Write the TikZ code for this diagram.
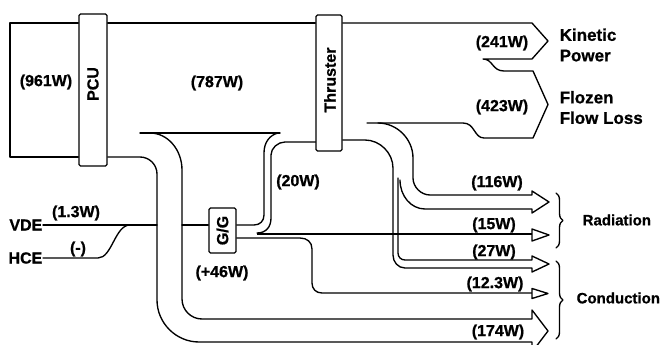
\documentclass[tikz,border=0pt]{standalone}
\usepackage{fontspec}
\setmainfont{Liberation Sans}[BoldFeatures={FakeBold=0.8}]
\usetikzlibrary{decorations.pathreplacing}
\begin{document}
\begin{tikzpicture}[x=1pt,y=-1pt, line width=1.35pt, line join=round, line cap=round,
  lbl/.style={font=\fontsize{16}{20}\selectfont\bfseries, inner sep=0pt},
  biglbl/.style={font=\fontsize{17}{20.5}\selectfont\bfseries, inner sep=0pt, anchor=west, align=left},
  grplbl/.style={font=\fontsize{15}{18}\selectfont\bfseries, inner sep=0pt, anchor=west},
  box/.style={draw, rounded corners=1.5pt, inner sep=0pt},
  openhead/.style={fill=white},
  grpbrace/.style={decorate, decoration={brace, amplitude=7pt}}]
\useasboundingbox (0,0) rectangle (667,345);
\clip (0,0) rectangle (667,345);

% boxes
\node[box, minimum width=28pt, minimum height=152pt] (pcu) at (93,90) {};
\node[lbl, rotate=90] (pcut) at (93,84) {PCU};
\node[box, minimum width=26pt, minimum height=136pt] (thr) at (329,83) {};
\node[lbl, rotate=90] (thrt) at (330,80) {Thruster};
\node[box, minimum width=27pt, minimum height=45pt] (gg) at (222.5,230.5) {};
\node[lbl, rotate=90] (ggt) at (gg.center) {G/G};

% input labels
\node[lbl, anchor=east] (vde) at (43,225) {VDE};
\node[lbl, anchor=east] (hce) at (43,258) {HCE};

% left input box (961W)
\draw (pcu.west |- 0,23) -- (10,23) -- (10,157) -- (pcu.west |- 0,157);

% main band top
\draw (pcu.east |- 0,23) -- (thr.west |- 0,23);

% kinetic + frozen flow outline
\draw (thr.east |- 0,23) -- (532,23) -- (548,41) -- (532,59) -- (483,59)
  .. controls (493,59) and (492,71) .. (504,71) -- (533,71) -- (548,104.5) -- (533,138)
  -- (484,138) .. controls (474,138) and (475,123) .. (463,123) -- (367,123);

% 116W radiation band
\draw (378,123) .. controls (397,123) and (413,139) .. (413,158) -- (413,178)
  .. controls (413,187) and (421,195) .. (430,195) -- (532,195) -- (532,191) -- (549,202)
  -- (532,213) -- (532,209) -- (425,209) .. controls (411,209) and (400,196) .. (400,180);

% 27W conduction band (outer wall from thruster)
\draw (thr.east |- 0,140) -- (365,140) .. controls (380,140) and (393,153) .. (393,168)
  -- (393,255) .. controls (393,262) and (398,268) .. (405,268) -- (532,268) -- (532,272)
  -- (549,264) -- (532,256) -- (532,260) -- (405,260) .. controls (401,260) and (398,257) .. (398,253)
  -- (398,178);

% T-line under main band
\draw (140,133) -- (280,133);

% 174W conduction band
\draw (pcu.east |- 0,157) -- (140,157) .. controls (149.4,157) and (157,164.6) .. (157,174)
  -- (157,300) .. controls (157,323) and (176,342) .. (199,342) -- (532,342) -- (532,352)
  -- (548,331) -- (532,310) -- (532,319) -- (202,319) .. controls (191,319) and (182,310) .. (182,299)
  -- (182,170) .. controls (182,150) and (168,133) .. (150,133);

% 20W band down to G/G
\draw (278,133) .. controls (270,135) and (264,142) .. (264,153) -- (264,215)
  .. controls (264,221) and (260,225) .. (254,225) -- (gg.east |- 0,225);
\draw (thr.west |- 0,142) -- (285,142) .. controls (278,142) and (271,148) .. (271,155)
  -- (271,218) .. controls (271,227) and (266,233) .. (257,233);

% 15W radiation (G/G output)
\draw[line width=2.6pt, line cap=butt] (257,234) -- (532,234);
\draw[openhead] (532,229) -- (549,235) -- (532,241) -- cycle;

% 12.3W conduction (G/G output)
\draw (gg.east |- 0,238) -- (300,238) .. controls (307,238) and (312,242) .. (312,249)
  -- (312,283) .. controls (312,289) and (316,293) .. (322,293) -- (532,293);
\draw[openhead] (532,288.5) -- (548,293.5) -- (532,298.5) -- cycle;

% VDE / HCE inputs
\draw (vde.east) -- (157,225);
\draw (182,225) -- (gg.west |- 0,225);
\draw (hce.east) -- (98,258) .. controls (112,258) and (115,225) .. (130,225);

% braces
\draw[grpbrace] (556,193) -- (556,248);
\draw[grpbrace] (556,261) -- (556,339);

% value labels
\node[lbl] (p961) at (46,82) {(961W)};
\node[lbl] (p787) at (217,83) {(787W)};
\node[lbl] (p241) at (502,43) {(241W)};
\node[lbl] (p423) at (502,107) {(423W)};
\node[lbl] (p20) at (298,182) {(20W)};
\node[lbl] (p116) at (497,183) {(116W)};
\node[lbl] (p15) at (494,225) {(15W)};
\node[lbl] (p27) at (494,252) {(27W)};
\node[lbl] (p123) at (495,284) {(12.3W)};
\node[lbl] (p174) at (498,332) {(174W)};
\node[lbl] (p13) at (76,213) {(1.3W)};
\node[lbl] (pm) at (78,249) {(-)};
\node[lbl] (p46) at (222,273) {(+46W)};

% destination labels
\node[biglbl] (kin) at (559,45) {Kinetic\\Power};
\node[biglbl] (ffl) at (559,107.5) {Flozen\\Flow Loss};
\node[grplbl] (rad) at (582,220) {Radiation};
\node[grplbl] (con) at (576,298) {Conduction};
\end{tikzpicture}
\end{document}
